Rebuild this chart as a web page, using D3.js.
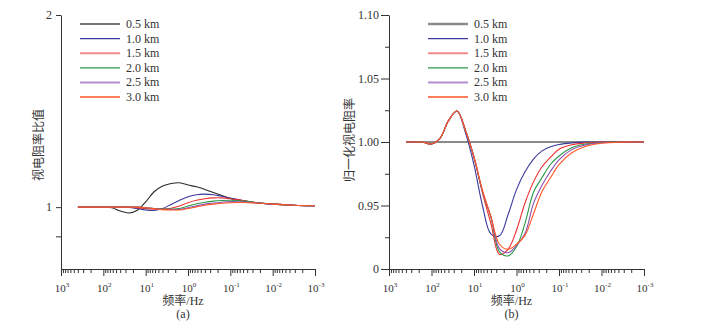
<!DOCTYPE html>
<html>
<head>
<meta charset="utf-8">
<script src="https://cdn.jsdelivr.net/npm/d3@7"></script>
<style>
  body { margin: 0; background: #fff; }
</style>
</head>
<body>
<div id="container"></div>
<script>
const freqs = [398, 251, 158, 100, 63.1, 39.8, 25.1, 15.8, 10, 6.31, 3.98, 2.51, 1.58, 1,
  0.631, 0.398, 0.251, 0.158, 0.1, 0.0501, 0.0251, 0.01, 0.00316, 0.001];

const seriesNames = ["0.5 km", "1.0 km", "1.5 km", "2.0 km", "2.5 km", "3.0 km"];

// (a) apparent resistivity ratio
const ratio05 = [1, 1, 1, 1, 0.998, 0.986, 0.979, 0.989, 1.019, 1.057, 1.079, 1.089, 1.092, 1.083, 1.076, 1.066, 1.054, 1.043, 1.032, 1.023, 1.016, 1.011, 1.007, 1.005];
const ratio10 = [1, 1, 1, 1, 1, 1, 0.999, 0.995, 0.990, 0.988, 0.995, 1.010, 1.025, 1.038, 1.046, 1.048, 1.046, 1.040, 1.033, 1.024, 1.016, 1.011, 1.007, 1.005];
const ratio15 = [1, 1, 1, 1, 1, 1, 1, 0.998, 0.995, 0.993, 0.993, 0.996, 1.004, 1.016, 1.025, 1.031, 1.034, 1.034, 1.031, 1.024, 1.017, 1.011, 1.007, 1.005];
const ratio20 = [1, 1, 1, 1, 1, 1, 1, 1, 0.998, 0.995, 0.993, 0.993, 0.995, 1.004, 1.012, 1.018, 1.022, 1.024, 1.025, 1.022, 1.017, 1.011, 1.007, 1.005];
const ratio25 = [1, 1, 1, 1, 1, 1, 1, 1, 0.998, 0.995, 0.992, 0.992, 0.992, 0.998, 1.005, 1.011, 1.015, 1.018, 1.020, 1.019, 1.016, 1.011, 1.007, 1.005];
const ratio30 = [1, 1, 1, 1, 1, 1, 1, 1, 0.998, 0.995, 0.991, 0.990, 0.990, 0.995, 1.001, 1.007, 1.011, 1.014, 1.016, 1.017, 1.015, 1.011, 1.007, 1.005];

// (b) normalized apparent resistivity
const norm05 = [1, 1, 1, 1, 1, 1, 1, 1, 1, 1, 1, 1, 1, 1, 1, 1, 1, 1, 1, 1, 1, 1, 1, 1];
const norm10 = [1, 1, 0.9998, 0.9985, 1.0029, 1.0168, 1.0244, 1.007, 0.982, 0.9498, 0.9275, 0.9262, 0.9427, 0.9625, 0.9765, 0.9865, 0.993, 0.9962, 0.998, 0.9993, 0.9999, 1, 1, 1];
const norm15 = [1, 1, 0.9998, 0.9985, 1.0029, 1.0168, 1.0244, 1.009, 0.988, 0.960, 0.9355, 0.9115, 0.9155, 0.9305, 0.952, 0.9686, 0.9805, 0.988, 0.9943, 0.9978, 0.9992, 0.9999, 1, 1];
const norm20 = [1, 1, 0.9998, 0.9985, 1.0029, 1.0168, 1.0244, 1.009, 0.988, 0.961, 0.9405, 0.9135, 0.9103, 0.9175, 0.936, 0.9605, 0.972, 0.9825, 0.989, 0.9955, 0.9982, 0.9996, 1, 1];
const norm25 = [1, 1, 0.9998, 0.9985, 1.0029, 1.0168, 1.0244, 1.009, 0.988, 0.961, 0.9408, 0.916, 0.9128, 0.9185, 0.928, 0.9517, 0.966, 0.977, 0.986, 0.994, 0.9975, 0.9994, 0.9999, 1];
const norm30 = [1, 1, 0.9998, 0.9985, 1.0029, 1.0168, 1.0244, 1.009, 0.988, 0.962, 0.941, 0.9195, 0.9155, 0.9195, 0.9265, 0.9435, 0.961, 0.972, 0.9822, 0.9915, 0.9963, 0.999, 0.9999, 1];

const xMajor = [1000, 100, 10, 1, 0.1, 0.01, 0.001];
const xMajorExp = ["3", "2", "1", "0", "-1", "-2", "-3"];

const yTicksA = [2, 1];
const yLabelsA = ["2", "1"];
const yMinorA = [0.9];

const yTicksB = [1.10, 1.05, 1.00, 0.95, 0.90];
const yLabelsB = ["1.10", "1.05", "1.00", "0.95", "0"];
const yMinorB = [1.075, 1.025, 0.975, 0.925];

let w = 703;
let h = 323;
let plotTop = 15;
let plotBottom = 269;
let serif = "'Liberation Serif', 'Times New Roman', serif";
let cjk = "'Liberation Serif', 'Noto Sans CJK SC', sans-serif";

let colorsA = ["#2a2a2a", "#3a3a9c", "#ee2f2f", "#2b9a48", "#8c4fb3", "#ff5522"];
let colorsB = ["#8a8a8a", "#3a3a9c", "#ee2f2f", "#2b9a48", "#8c4fb3", "#ff5522"];
let legendColorsA = ["#444", "#3a3a9c", "#f38a8a", "#2b9a48", "#b58fd0", "#ff5522"];
let legendColorsB = ["#8a8a8a", "#3a3a9c", "#f38a8a", "#2b9a48", "#b58fd0", "#ff5522"];

let svg = d3.select("#container")
  .append("svg")
  .attr("width", w)
  .attr("height", h)
  .style("background-color", "#fff");

// minor ticks on the log frequency axis
let xMinor = [];
xMajor.slice(0, -1).forEach(p => {
  for (let k = 2; k <= 9; k++) xMinor.push(p / 10 * k);
});

function drawPanel(cfg) {
  let g = svg.append("g");
  let x = d3.scaleLog().domain([1000, 0.001]).range([cfg.left, cfg.right]);
  let y = cfg.y;

  // x axis
  g.append("g")
    .attr("transform", `translate(0,${plotBottom})`)
    .call(d3.axisBottom(x).tickValues(xMinor).tickSize(4).tickFormat("").tickSizeOuter(0))
    .call(a => a.select(".domain").remove());
  g.append("g")
    .attr("transform", `translate(0,${plotBottom})`)
    .call(d3.axisBottom(x).tickValues(xMajor).tickSize(7).tickFormat("").tickSizeOuter(0));

  let xl = g.selectAll(".xlab")
    .data(xMajor)
    .join("text")
    .attr("class", "xlab")
    .attr("x", d => x(d) + 1)
    .attr("y", 292)
    .attr("text-anchor", "middle")
    .attr("font-family", serif)
    .attr("font-size", 11)
    .attr("fill", "#333");
  xl.append("tspan").text("10");
  xl.append("tspan")
    .attr("dy", -5)
    .attr("font-size", 7)
    .text((d, i) => xMajorExp[i]);

  // y axis
  g.append("g")
    .attr("transform", `translate(${cfg.left},0)`)
    .call(d3.axisLeft(y).tickValues(cfg.minor).tickSize(cfg.minorLen).tickFormat("").tickSizeOuter(0))
    .call(a => a.select(".domain").remove());
  g.append("g")
    .attr("transform", `translate(${cfg.left},0)`)
    .call(d3.axisLeft(y).tickValues(cfg.ticks).tickSize(cfg.majorLen).tickPadding(cfg.pad)
      .tickFormat((d, i) => cfg.labels[i]).tickSizeOuter(0))
    .call(a => a.selectAll("text").attr("font-family", serif).attr("font-size", 12).attr("fill", "#333"));

  g.selectAll(".domain, .tick line").attr("stroke", "#333");

  // titles
  g.append("text")
    .attr("transform", `translate(${cfg.labelX},${cfg.labelY}) rotate(-90)`)
    .attr("text-anchor", "middle")
    .attr("font-family", "'Noto Sans CJK SC', sans-serif")
    .attr("font-size", 12)
    .attr("fill", "#333")
    .text(cfg.yTitle);
  let cx = (cfg.left + cfg.right) / 2 - 5;
  g.append("text")
    .attr("x", cx)
    .attr("y", 305)
    .attr("text-anchor", "middle")
    .attr("font-family", cjk)
    .attr("font-size", 12)
    .attr("fill", "#333")
    .text("频率/Hz");
  g.append("text")
    .attr("x", cx)
    .attr("y", 318)
    .attr("text-anchor", "middle")
    .attr("font-family", serif)
    .attr("font-size", 12)
    .attr("fill", "#333")
    .text(cfg.tag);

  // curves
  let line = d3.line()
    .x((d, i) => x(freqs[i]))
    .y(d => y(d))
    .curve(d3.curveCatmullRom.alpha(0.5));

  g.selectAll(".curve")
    .data(cfg.series)
    .join("path")
    .attr("class", "curve")
    .attr("d", d => line(d))
    .attr("fill", "none")
    .attr("stroke", (d, i) => cfg.colors[i])
    .attr("stroke-width", (d, i) => i === 0 ? cfg.firstWidth : 1.1);

  // legend
  let lg = g.selectAll(".leg")
    .data(seriesNames)
    .join("g")
    .attr("class", "leg")
    .attr("transform", (d, i) => `translate(${cfg.legendX},${24 + i * 14.6})`);
  lg.append("line")
    .attr("x1", 0)
    .attr("x2", 40)
    .attr("stroke", (d, i) => cfg.legendColors[i])
    .attr("stroke-width", (d, i) => (i === 2 || i === 4) ? 2 : (i === 0 ? cfg.firstWidth + 0.3 : 1.3));
  lg.append("text")
    .attr("x", 46)
    .attr("y", 4)
    .attr("font-family", serif)
    .attr("font-size", 12)
    .attr("fill", "#333")
    .text(d => d);
}

drawPanel({
  left: 61, right: 315,
  y: d3.scaleLog().domain([0.8, 2]).range([plotBottom, plotTop]),
  ticks: yTicksA, labels: yLabelsA, minor: yMinorA,
  majorLen: 5, minorLen: 5, pad: 4,
  yTitle: "视电阻率比值", labelX: 43, labelY: 145,
  tag: "(a)",
  series: [ratio05, ratio10, ratio15, ratio20, ratio25, ratio30],
  colors: colorsA, legendColors: legendColorsA, firstWidth: 1.1,
  legendX: 80
});

drawPanel({
  left: 389, right: 644,
  y: d3.scaleLinear().domain([0.9, 1.1]).range([plotBottom, plotTop]),
  ticks: yTicksB, labels: yLabelsB, minor: yMinorB,
  majorLen: 8, minorLen: 4, pad: 2,
  yTitle: "归一化视电阻率", labelX: 354, labelY: 140,
  tag: "(b)",
  series: [norm05, norm10, norm15, norm20, norm25, norm30],
  colors: colorsB, legendColors: legendColorsB, firstWidth: 2,
  legendX: 428
});
</script>
</body>
</html>
